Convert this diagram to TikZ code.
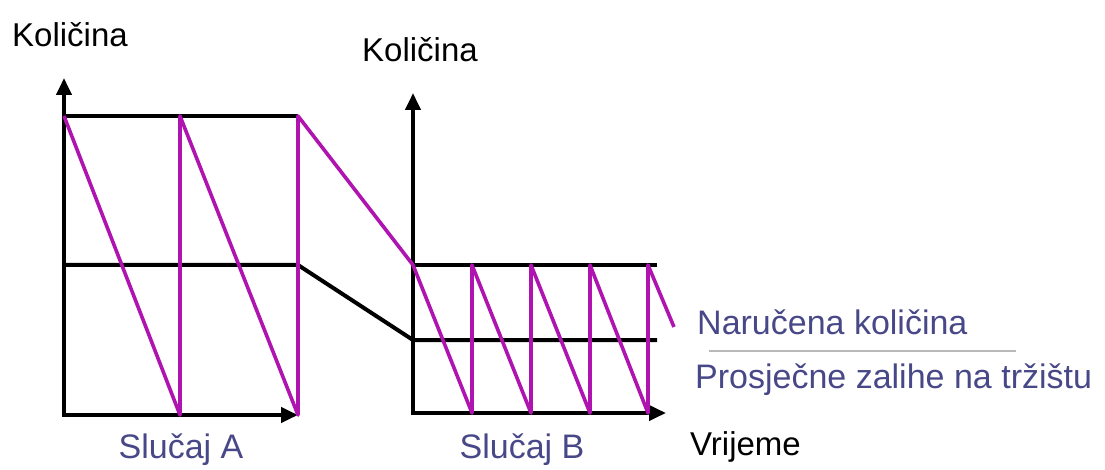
\documentclass[tikz,border=0pt]{standalone}
\usepackage{fontspec}
\setmainfont{Liberation Sans}
\usetikzlibrary{arrows.meta}
\definecolor{mag}{RGB}{176,20,176}
\definecolor{bluetxt}{RGB}{72,72,136}
\tikzset{
  axis/.style={line width=4pt,-{Triangle[length=17pt,width=15pt]}},
  blackline/.style={line width=4pt},
  magline/.style={draw=mag,line width=3.6pt,line join=round},
  blacklabel/.style={inner sep=0pt,anchor=base west,font=\fontsize{33}{36}\selectfont},
  bluelabel/.style={inner sep=0pt,text=bluetxt,font=\fontsize{34}{38}\selectfont},
}
\begin{document}
\begin{tikzpicture}[x=1pt,y=-1pt]
\useasboundingbox (0,0) rectangle (1105,470);
% coordinates
\coordinate (oA) at (64,415);
\coordinate (yA) at (64,78);
\coordinate (xA) at (298,415);
\coordinate (tA0) at (64,116);
\coordinate (tA1) at (180,116);
\coordinate (tA2) at (298,116);
\coordinate (bA1) at (180,415);
\coordinate (bA2) at (298,415);
\coordinate (mA0) at (64,265);
\coordinate (mA1) at (298,265);
\coordinate (oB) at (413,413);
\coordinate (yB) at (413,93);
\coordinate (xB) at (666,413);
\coordinate (tB0) at (413,265);
\coordinate (tB1) at (472,265);
\coordinate (tB2) at (531,265);
\coordinate (tB3) at (590,265);
\coordinate (tB4) at (648,265);
\coordinate (tBe) at (657,265);
\coordinate (bB1) at (472,413);
\coordinate (bB2) at (531,413);
\coordinate (bB3) at (590,413);
\coordinate (bB4) at (648,413);
\coordinate (mB0) at (413,340);
\coordinate (mBe) at (657,340);
\coordinate (endB) at (674,327);
% black lines
\draw[blackline] (tA0) -- (tA2);
\draw[blackline] (mA0) -- (mA1) -- (mB0) -- (mBe);
\draw[blackline] (tB0) -- (tBe);
% axes
\draw[axis] (oA) -- (yA);
\draw[axis] ([xshift=-2pt]oA) -- (xA);
\draw[axis] (oB) -- (yB);
\draw[axis] ([xshift=-2pt]oB) -- (xB);
% sawtooth
\draw[magline] (tA0) -- (bA1) -- (tA1) -- (bA2) -- (tA2) -- (tB0)
  -- (bB1) -- (tB1) -- (bB2) -- (tB2) -- (bB3) -- (tB3) -- (bB4) -- (tB4) -- (endB);
% labels
\node[blacklabel] (kol1) at (12,47) {Količina};
\node[blacklabel] (kol2) at (362,62) {Količina};
\node[blacklabel] (vrij) at (690,455) {Vrijeme};
\node[bluelabel,anchor=base] (slA) at (181,458) {Slučaj A};
\node[bluelabel,anchor=base] (slB) at (522,458) {Slučaj B};
\node[bluelabel,anchor=base west] (nar) at (697,334) {Naručena količina};
\node[bluelabel,anchor=base west] (pros) at (695,388) {Prosječne zalihe na tržištu};
\draw[gray!55,line width=1.2pt] (709,351) -- (1016,351);
\end{tikzpicture}
\end{document}
